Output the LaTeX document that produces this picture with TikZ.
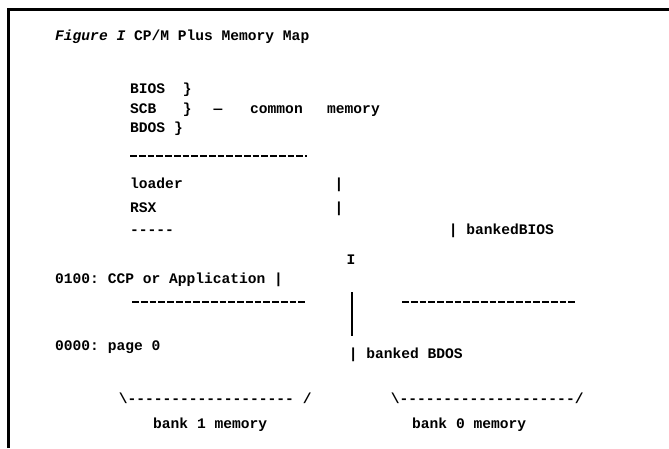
\documentclass[tikz,border=0pt]{standalone}
\usepackage{fontspec}
\setmonofont{Liberation Mono}
\begin{document}
\begin{tikzpicture}[x=1pt,y=-1pt,
  t/.style={anchor=base west, inner sep=0pt, font=\ttfamily\bfseries\fontsize{14.6}{16}\selectfont},
  tc/.style={anchor=base, inner sep=0pt, font=\ttfamily\bfseries\fontsize{14.6}{16}\selectfont},
  sep/.style={line width=2.2pt, dash pattern=on 6.8pt off 1.96pt},
  frame/.style={line width=3pt}]
\useasboundingbox (0,0) rectangle (669,448);
\fill[white] (0,0) rectangle (669,448);
% frame
\coordinate (fb) at (8.5,448);
\coordinate (fc) at (8.5,9.5);
\coordinate (fr) at (669,9.5);
\draw[frame] (fb) -- (fc) -- (fr);
% title
\node[t] (title) at (55,40) {\textit{Figure I} CP/M Plus Memory Map};
% common memory block
\node[t] (bios) at (130,93) {BIOS\ \ \}};
\node[t] (scb) at (130,113) {SCB\ \ \ \}};
\node[tc] (dash) at (218,113) {—};
\node[t] (common) at (250,113) {common};
\node[t] (memory) at (327,113) {memory};
\node[t] (bdos) at (130,132) {BDOS\ \}};
\coordinate (s1a) at (130,156);
\coordinate (s1b) at (307,156);
\draw[sep] (s1a) -- (s1b);
\node[t] (loader) at (130,188) {loader};
\node[tc] (bar1) at (339,188) {|};
\node[t] (rsx) at (130,212) {RSX};
\node[tc] (bar2) at (339,212) {|};
\node[t] (short) at (130,234) {-----};
\node[t] (bbios) at (448.6,234) {|\ bankedBIOS};
\node[tc] (ii) at (351,264) {I};
\node[t] (ccp) at (55,283) {0100:\ CCP\ or\ Application\ |};
\coordinate (s2a) at (132,302);
\coordinate (s2b) at (307,302);
\draw[sep] (s2a) -- (s2b);
\coordinate (s3a) at (402,302);
\coordinate (s3b) at (575,302);
\draw[sep] (s3a) -- (s3b);
\coordinate (v1) at (352,292);
\coordinate (v2) at (352,336);
\draw[line width=1.8pt] (v1) -- (v2);
\node[t] (page0) at (55,350) {0000:\ page\ 0};
\node[t] (bbdos) at (348.6,358) {|\ banked\ BDOS};
\node[t] (br1) at (118.6,403) {\textbackslash-------------------\ /};
\node[t] (br0) at (390.6,403) {\textbackslash--------------------/};
\node[t] (bank1) at (153,428) {bank\ 1\ memory};
\node[t] (bank0) at (412,428) {bank\ 0\ memory};
\end{tikzpicture}
\end{document}
